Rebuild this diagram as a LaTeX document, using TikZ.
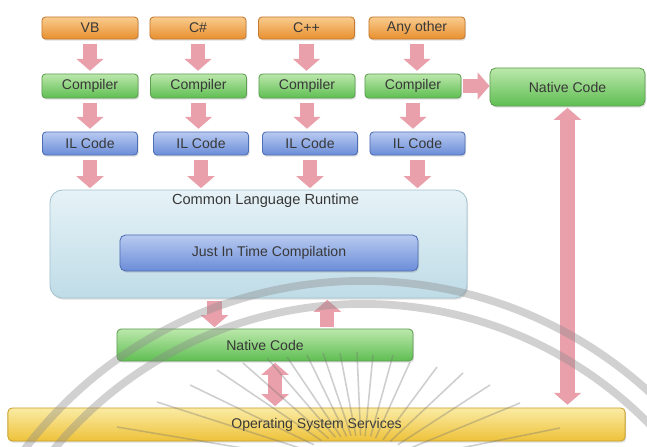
\documentclass[tikz,border=0pt]{standalone}
\usepackage{fontspec}
\setmainfont{Liberation Sans}
\usetikzlibrary{arrows.meta,shadows,calc}

\definecolor{orTop}{HTML}{F9CB8E}
\definecolor{orBot}{HTML}{E8902E}
\definecolor{orLine}{HTML}{C47A30}
\definecolor{grTop}{HTML}{BCE8AC}
\definecolor{grBot}{HTML}{5FBE52}
\definecolor{grLine}{HTML}{5E9E52}
\definecolor{blTop}{HTML}{B8CAF0}
\definecolor{blBot}{HTML}{6B8DD8}
\definecolor{blLine}{HTML}{4D6DB4}
\definecolor{clTop}{HTML}{E6F2F7}
\definecolor{clBot}{HTML}{BFDCE7}
\definecolor{clLine}{HTML}{A4C4D0}
\definecolor{osTop}{HTML}{FAEBA4}
\definecolor{osBot}{HTML}{EEC23A}
\definecolor{osLine}{HTML}{C9A02E}
\definecolor{arr}{HTML}{EAA0AB}
\definecolor{txt}{HTML}{383838}

\tikzset{
  box/.style={rounded corners=2.5pt, draw, line width=0.6pt, inner sep=0pt,
    font=\fontsize{10}{12}\selectfont, text=txt,
    drop shadow={shadow xshift=0.8pt, shadow yshift=-1.2pt, opacity=0.25}},
  langbox/.style={box, top color=orTop, bottom color=orBot, draw=orLine,
    minimum width=2.4cm, minimum height=0.55cm},
  compbox/.style={box, top color=grTop, bottom color=grBot, draw=grLine,
    minimum width=2.4cm, minimum height=0.6cm},
  ilbox/.style={box, top color=blTop, bottom color=blBot, draw=blLine,
    minimum width=2.375cm, minimum height=0.575cm},
  flow/.style={draw=arr, line width=10pt,
    -{Triangle[length=8.5pt,width=19pt]}},
  flowboth/.style={draw=arr, line width=10pt,
    {Triangle[length=8.5pt,width=19pt]}-{Triangle[length=8.5pt,width=19pt]}},
  wmarc/.style={draw=black!45, opacity=0.4, line width=5.5pt},
  wmray/.style={draw=black!55, opacity=0.35, line width=1.1pt}
}

\begin{document}
\begin{tikzpicture}[x=0.025cm, y=-0.025cm]
\useasboundingbox (0,0) rectangle (647,447);
\fill[white] (0,0) rectangle (647,447);

% source languages
\node[langbox] (vb)  at (90,28)  {VB};
\node[langbox] (cs)  at (198,28) {C\#};
\node[langbox] (cpp) at (306.5,28) {C++};
\node[langbox] (any) at (417,28) {Any other};

% compilers
\node[compbox] (c1) at (90,86)  {Compiler};
\node[compbox] (c2) at (198.5,86) {Compiler};
\node[compbox] (c3) at (307,86) {Compiler};
\node[compbox] (c4) at (413,86) {Compiler};

% intermediate language
\node[ilbox] (il1) at (90,143.5)  {IL Code};
\node[ilbox] (il2) at (201,143.5) {IL Code};
\node[ilbox] (il3) at (310,143.5) {IL Code};
\node[ilbox] (il4) at (417.5,143.5) {IL Code};

% native code produced directly
\node[box, rounded corners=4pt, top color=grTop, bottom color=grBot, draw=grLine,
      minimum width=3.875cm, minimum height=0.95cm] (nat2) at (567.5,87) {Native Code};

% common language runtime
\node[box, rounded corners=9pt, top color=clTop, bottom color=clBot, draw=clLine,
      minimum width=10.425cm, minimum height=2.7cm,
      label={[anchor=north, inner sep=2pt, yshift=-1pt, xshift=5pt,
              font=\fontsize{10.4}{12}\selectfont, text=txt]north:Common Language Runtime}]
      (clr) at (258.5,244) {};
\node[box, rounded corners=4pt, top color=blTop, bottom color=blBot, draw=blLine,
      minimum width=7.45cm, minimum height=0.9cm] (jit) at (269,253) {Just In Time Compilation};

% native code from the runtime
\node[box, rounded corners=3pt, top color=grTop, bottom color=grBot, draw=grLine,
      minimum width=7.4cm, minimum height=0.8cm] (nat) at (265,345) {Native Code};

% operating system
\node[box, rounded corners=3pt, top color=osTop, bottom color=osBot, draw=osLine,
      minimum width=15.425cm, minimum height=0.825cm] (os) at (316.5,424.5) {Operating System Services};

% flows: language -> compiler -> IL -> runtime
\foreach \a/\b in {vb/c1, cs/c2, cpp/c3, any/c4, c1/il1, c2/il2, c3/il3, c4/il4}
  \draw[flow, shorten <=3pt, shorten >=2pt] (\a.south) -- (\a.south |- \b.north);
\foreach \a in {il1, il2, il3, il4}
  \draw[flow, shorten <=3pt, shorten >=1pt] (\a.south) -- (\a.south |- clr.north);

% direct compilation to native code
\draw[flow, shorten <=1pt, shorten >=0pt] (c4.east) -- (c4.east -| nat2.west);
\draw[flowboth, shorten <=1pt, shorten >=2pt] (nat2.south) -- (nat2.south |- os.north);

% runtime <-> native code <-> operating system
\path (nat.north west) -- (nat.north east)
  coordinate[pos=0.33] (down) coordinate[pos=0.71] (up) coordinate[pos=0.534] (mid);
\draw[flow, shorten <=2pt, shorten >=1pt] (down |- clr.south) -- (down);
\draw[flow, shorten <=1pt, shorten >=1pt] (up) -- (up |- clr.south);
\draw[flowboth, shorten <=1pt, shorten >=1pt] (mid |- nat.south) -- (mid |- os.north);

% seal printed over the page
\begin{scope}
  \clip (0,0) rectangle (647,447);
  \draw[wmarc] (363,705) circle[radius=10.6cm];
  \draw[wmarc] (363,705) circle[radius=10.025cm];
  \coordinate (rc) at (362,468);
  \foreach \px/\py in {117/427, 157/402, 190/385, 217/370, 243/363, 267/358,
                       287/357, 307/355, 323/353, 340/353, 357/352, 373/355,
                       393/355, 410/362, 437/367, 463/373, 490/385, 520/403, 560/428}
    \draw[wmray] ($(rc)!0.28!(\px,\py)$) -- (\px,\py);
\end{scope}
\end{tikzpicture}
\end{document}
